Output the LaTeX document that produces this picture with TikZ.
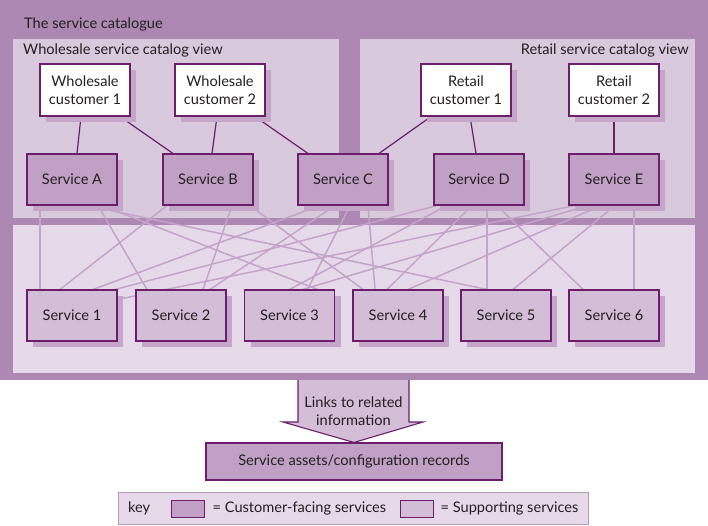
\documentclass[tikz,border=0pt]{standalone}
\usepackage{fontspec}
\setmainfont{Lato}
\usetikzlibrary{positioning,calc,shadows}
\definecolor{catframe}{HTML}{AD88B3}
\definecolor{viewpanel}{HTML}{D9C9DD}
\definecolor{supportpanel}{HTML}{E6DAEA}
\definecolor{facingfill}{HTML}{C0A0C4}
\definecolor{supportfill}{HTML}{D3BDD7}
\definecolor{boxedge}{HTML}{6B1F6B}
\definecolor{shadowfill}{HTML}{C4A6C8}
\definecolor{linkline}{HTML}{C4A4C8}
\definecolor{inktext}{HTML}{231F20}
\definecolor{keyedge}{HTML}{B898BC}
\pgfdeclarelayer{panels}
\pgfdeclarelayer{links}
\pgfsetlayers{panels,links,main}
\tikzset{
  boxshadow/.style={drop shadow={shadow xshift=6pt, shadow yshift=-6pt, fill=shadowfill, opacity=1}},
  custbox/.style={draw=boxedge, line width=1.1pt, fill=white, boxshadow, minimum width=90pt, minimum height=52pt, align=center, inner sep=2pt},
  facingbox/.style={draw=boxedge, line width=1.1pt, fill=facingfill, boxshadow, minimum width=90pt, minimum height=51pt},
  supportbox/.style={draw=boxedge, line width=1.1pt, fill=supportfill, boxshadow, minimum width=90pt, minimum height=51pt},
  recordsbox/.style={draw=boxedge, line width=1.1pt, fill=facingfill, minimum width=296pt, minimum height=37pt},
  custlink/.style={draw=boxedge, line width=1.2pt},
  svclink/.style={draw=linkline, line width=1.5pt},
  paneltitle/.style={inner sep=0pt, anchor=west, text height=10pt, text depth=3pt},
  keytext/.style={inner sep=0pt, text height=10pt, text depth=3pt},
  swatch/.style={draw=boxedge, line width=0.9pt, minimum width=33pt, minimum height=17pt, inner sep=0pt}
}

\begin{document}
\begin{tikzpicture}[x=1pt, y=-1pt, every node/.style={font=\fontsize{14.6}{18}\selectfont, text=inktext}]
  \useasboundingbox (0,0) rectangle (708,525);

  % catalogue frame and the three views
  \begin{pgfonlayer}{panels}
    \fill[catframe] (0,0) rectangle (708,380);
    \fill[viewpanel] (13,39) rectangle (339,218);
    \fill[viewpanel] (360,39) rectangle (695,218);
    \fill[supportpanel] (13,225) rectangle (695,373);
  \end{pgfonlayer}
  \node[paneltitle] (cattitle) at (24,25) {The service catalogue};
  \node[paneltitle] (wstitle) at (23,51) {Wholesale service catalog view};
  \node[paneltitle, anchor=east] (rttitle) at (689,51) {Retail service catalog view};

  % customers
  \node[custbox] (wc1) at (85,90) {Wholesale\\customer 1};
  \node[custbox] (wc2) at (220,90) {Wholesale\\customer 2};
  \node[custbox] (rc1) at (466,90) {Retail\\customer 1};
  \node[custbox] (rc2) at (614,90) {Retail\\customer 2};

  % customer-facing and supporting services
  \foreach \nm/\lbl/\xx in {svcA/A/72, svcB/B/208, svcC/C/343, svcD/D/479, svcE/E/614}
    \node[facingbox] (\nm) at (\xx,179.5) {Service \lbl};
  \foreach \nm/\lbl/\xx in {sup1/1/72, sup2/2/181, sup3/3/289.5, sup4/4/398, sup5/5/506, sup6/6/614}
    \node[supportbox] (\nm) at (\xx,315.5) {Service \lbl};

  \begin{pgfonlayer}{links}
    \draw[custlink] ([xshift=-4pt]wc1.south) -- ([xshift=5pt]svcA.north);
    \draw[custlink] ([xshift=35pt]wc1.south) -- ([xshift=-35pt]svcB.north);
    \draw[custlink] ([xshift=-3pt]wc2.south) -- ([xshift=4pt]svcB.north);
    \draw[custlink] ([xshift=35pt]wc2.south) -- ([xshift=-35pt]svcC.north);
    \draw[custlink] ([xshift=-35pt]rc1.south) -- ([xshift=36pt]svcC.north);
    \draw[custlink] ([xshift=4pt]rc1.south) -- ([xshift=-3pt]svcD.north);
    \draw[custlink] (rc2.south) -- (svcE.north);
    % which supporting services each customer-facing one relies on
    \foreach \tp/\tx/\bt/\bx in {svcA/-32/sup1/-32, svcA/26/sup2/-34, svcA/30/sup3/28, svcA/15/sup5/-19,
        svcB/-41/sup1/-12, svcB/24/sup2/22, svcB/42/sup4/-35,
        svcC/-23/sup1/21, svcC/-8/sup2/29, svcC/7/sup3/18, svcC/25/sup4/-23,
        svcD/-42/sup1/43, svcD/-32/sup3/0, svcD/-7/sup4/-11, svcD/8/sup5/-19, svcD/18/sup6/-31,
        svcE/-26/sup3/13, svcE/-13/sup4/10, svcE/1/sup5/7, svcE/20/sup6/20}
      \draw[svclink] ([xshift=\tx pt]\tp.south) -- ([xshift=\bx pt]\bt.north);
    \draw[svclink] ([xshift=-39pt]svcE.south) -- ([yshift=-10pt]sup1.north east);
  \end{pgfonlayer}

  % link down to the records
  \node[recordsbox] (records) at (354,461.5) {Service assets/configuration records};
  \fill[supportfill] (298,380) -- (298,422) -- (283,422) -- (records.north) -- (423,422) -- (409,422) -- (409,380) -- cycle;
  \draw[boxedge, line width=1.1pt, line join=miter] (298,380) -- (298,422) -- (283,422) -- (records.north) -- (423,422) -- (409,422) -- (409,380);
  \node[align=center] (linktext) at (353.5,411) {Links to related\\information};

  % key
  \node[draw=keyedge, line width=1.5pt, fill=supportpanel, minimum width=470pt, minimum height=32pt] (keybox) at (353.5,508.5) {};
  \node[keytext, anchor=west] (keylbl) at (128,508.5) {key};
  \node[swatch, fill=facingfill] (keyfacing) at (187.5,508.5) {};
  \node[keytext, right=8pt of keyfacing] (keyfacingtxt) {= Customer-facing services};
  \node[swatch, fill=supportfill] (keysupport) at (416.5,508.5) {};
  \node[keytext, right=7pt of keysupport] (keysupporttxt) {= Supporting services};
\end{tikzpicture}
\end{document}
